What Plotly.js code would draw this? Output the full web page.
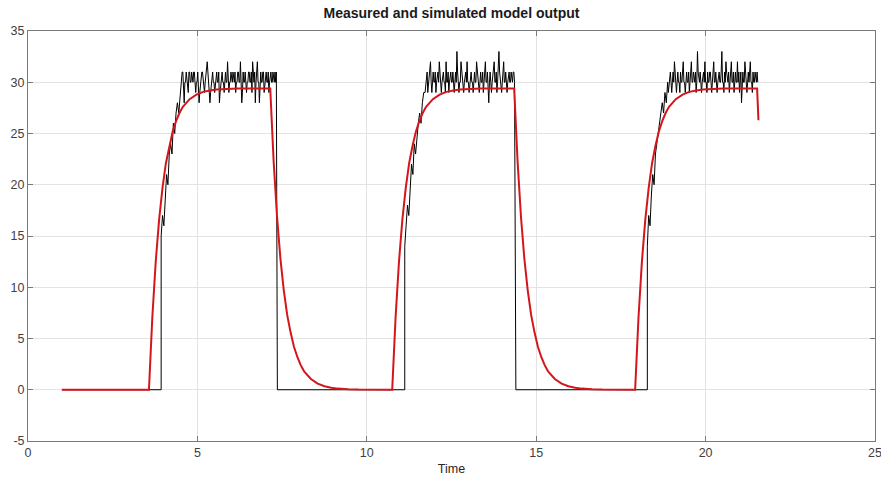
<!DOCTYPE html>
<html>
<head>
<meta charset="utf-8">
<script src="https://cdn.plot.ly/plotly-3.0.1.min.js"></script>
<style>html,body{margin:0;padding:0;background:#fff;}#chart{width:881px;height:477px;}</style>
</head>
<body>
<div id="chart"></div>
<script>
// ---------- Simulated model output (red) ----------
const simTime = [
  1.00, 3.57, 3.67, 3.77, 3.87, 3.97, 4.07, 4.17, 4.27, 4.37, 4.47, 4.57, 4.77, 4.97, 5.17, 5.37, 5.57, 5.87, 6.17, 7.15,
  7.25, 7.35, 7.45, 7.55, 7.65, 7.75, 7.85, 7.95, 8.05, 8.15, 8.35, 8.55, 8.75, 8.95, 9.15, 9.45, 9.75, 10.75,
  10.85, 10.95, 11.05, 11.15, 11.25, 11.35, 11.45, 11.55, 11.65, 11.75, 11.95, 12.15, 12.35, 12.55, 12.75, 13.05, 13.35, 14.35,
  14.45, 14.55, 14.65, 14.75, 14.85, 14.95, 15.05, 15.15, 15.25, 15.35, 15.55, 15.75, 15.95, 16.15, 16.35, 16.65, 16.95, 17.92,
  18.02, 18.12, 18.22, 18.32, 18.42, 18.52, 18.62, 18.72, 18.82, 18.92, 19.12, 19.32, 19.52, 19.72, 19.92, 20.22, 20.52, 21.52, 21.56
];
const simValue = [
  0, 0, 7.1, 12.5, 16.6, 19.7, 22.1, 23.8, 25.2, 26.2, 27.0, 27.6, 28.35, 28.8, 29.06, 29.2, 29.29, 29.35, 29.38, 29.4,
  22.3, 16.9, 12.8, 9.7, 7.3, 5.6, 4.2, 3.2, 2.4, 1.8, 1.05, 0.6, 0.34, 0.2, 0.11, 0.05, 0.02, 0,
  7.1, 12.5, 16.6, 19.7, 22.1, 23.8, 25.2, 26.2, 27.0, 27.6, 28.35, 28.8, 29.06, 29.2, 29.29, 29.35, 29.38, 29.4,
  22.3, 16.9, 12.8, 9.7, 7.3, 5.6, 4.2, 3.2, 2.4, 1.8, 1.05, 0.6, 0.34, 0.2, 0.11, 0.05, 0.02, 0,
  7.1, 12.5, 16.6, 19.7, 22.1, 23.8, 25.2, 26.2, 27.0, 27.6, 28.35, 28.8, 29.06, 29.2, 29.29, 29.35, 29.38, 29.4, 26.3
];

// ---------- Measured output (black) ----------
const sampleStep = 0.02;
// cycle 1
const rise1Time  = [1.00, 3.93, 3.93, 3.97, 4.01, 4.05, 4.09, 4.13, 4.17, 4.21, 4.25, 4.29, 4.33, 4.37, 4.41, 4.45];
const rise1Value = [0,    0,    15,   17,   16,   19,   21,   20,   23,   24,   23,   26,   25,   27,   28,   27];
const plateau1Start = 4.49;
const plateau1Value = [
  29,29,30,31,31,30,28,30,30,31,30,29,29,31,31,30,30,31,30,30,
  31,31,30,29,30,30,31,30,28,29,30,30,31,31,30,30,29,30,31,31,
  32,31,30,30,28,29,30,31,31,30,30,29,30,31,31,30,30,31,28,29,
  30,31,31,30,30,29,30,31,30,30,32,31,29,30,30,31,30,30,31,30,
  30,31,29,30,30,31,31,30,30,32,30,28,29,31,30,30,31,30,29,30,
  30,31,31,30,30,31,29,32,30,30,31,28,30,31,32,30,30,28,29,31,
  30,30,31,31,29,30,30,31,30,30,31,29,30,31,31,30,30,31,30,30,
  31,30,31
];
const fall1Time = 7.36;
// cycle 2
const rise2Time  = [11.12, 11.12, 11.16, 11.20, 11.24, 11.28, 11.32, 11.36, 11.40, 11.44, 11.48, 11.52, 11.56, 11.60, 11.64, 11.68];
const rise2Value = [0,     14,    16,    18,    17,    20,    22,    21,    24,    23,    25,    26,    27,    26,    28,    29];
const plateau2Start = 11.72;
const plateau2Value = [
  29,30,30,31,29,30,31,31,32,30,29,30,31,30,30,31,29,30,31,31,
  30,32,31,30,29,30,31,31,30,30,29,32,30,30,31,29,30,31,31,30,
  30,31,30,29,30,31,30,33,31,30,29,30,30,32,31,30,30,29,30,31,
  31,30,32,30,30,29,30,31,31,30,30,29,30,31,30,30,32,31,30,30,
  29,30,31,30,30,31,29,30,31,32,30,30,31,29,28,30,31,30,29,30,
  31,31,32,30,30,31,29,30,31,33,31,30,30,29,30,31,32,30,30,31,
  30,29,30,31,31,30,30,31,30,30,31,31,30
];
const fall2Time = 14.40;
// cycle 3
const rise3Time  = [18.28, 18.28, 18.32, 18.36, 18.40, 18.44, 18.48, 18.52, 18.56, 18.60, 18.64, 18.68, 18.72, 18.76, 18.80, 18.84];
const rise3Value = [0,     14,    17,    16,    19,    21,    20,    23,    24,    25,    26,    27,    28,    27,    29,    28];
const plateau3Start = 18.88;
const plateau3Value = [
  30,29,30,31,31,30,29,30,31,30,32,31,30,29,30,31,30,30,29,31,
  30,30,31,32,30,30,29,31,31,30,30,31,29,30,31,32,30,30,31,30,
  30,31,29,30,33,31,30,30,31,30,29,30,31,31,30,32,30,30,29,31,
  30,30,31,31,30,29,30,31,32,30,30,31,30,29,30,31,31,30,30,31,
  33,30,30,29,31,30,32,31,30,30,31,29,30,31,32,30,30,31,29,30,
  31,30,30,32,30,31,29,30,31,28,30,31,30,30,32,31,30,29,30,31,
  30,31,32,30,30,29,31,30,30,31,30,30,31,30
];

// assemble measured series from the pieces above
const measTime = [], measValue = [];
function addPoints(ts, vs) { for (let i = 0; i < ts.length; i++) { measTime.push(ts[i]); measValue.push(vs[i]); } }
function addPlateau(start, vs) { for (let i = 0; i < vs.length; i++) { measTime.push(+(start + i * sampleStep).toFixed(3)); measValue.push(vs[i]); } }
addPoints(rise1Time, rise1Value);
addPlateau(plateau1Start, plateau1Value);
addPoints([fall1Time], [0]);
addPoints(rise2Time, rise2Value);
addPlateau(plateau2Start, plateau2Value);
addPoints([fall2Time], [0]);
addPoints(rise3Time, rise3Value);
addPlateau(plateau3Start, plateau3Value);

const xTicks = [0, 5, 10, 15, 20, 25];
const yTicks = [-5, 0, 5, 10, 15, 20, 25, 30, 35];

const font = 'Liberation Sans, Arial, Helvetica, sans-serif';
const axisColor = '#7a7a7a';

const traces = [
  { x: measTime, y: measValue, type: 'scatter', mode: 'lines', name: 'Measured',
    line: { color: '#000000', width: 1 } },
  { x: simTime, y: simValue, type: 'scatter', mode: 'lines', name: 'Simulated',
    line: { color: '#d4161c', width: 2 } }
];

const layout = {
  width: 881, height: 477,
  margin: { l: 28, r: 6, t: 31, b: 36 },
  paper_bgcolor: '#ffffff', plot_bgcolor: '#ffffff',
  showlegend: false,
  font: { family: font, size: 12, color: '#404040' },
  title: { text: '<b>Measured and simulated model output</b>', x: 0.5125, xanchor: 'center', y: 0.982, yanchor: 'top',
           font: { family: font, size: 14, color: '#1a1a1a' } },
  xaxis: {
    range: [0, 25], tickvals: xTicks, ticktext: xTicks.map(String),
    showgrid: true, gridcolor: '#e3e3e3', gridwidth: 1, zeroline: false,
    showline: true, linecolor: axisColor, linewidth: 1, mirror: 'allticks',
    ticks: 'inside', ticklen: 5, tickcolor: axisColor, ticklabeloverflow: 'allow',
    tickfont: { family: font, size: 12.5, color: '#404040' },
    title: { text: 'Time', font: { family: font, size: 12.5, color: '#262626' }, standoff: 5 }
  },
  yaxis: {
    range: [-5, 35], tickvals: yTicks, ticktext: yTicks.map(String),
    showgrid: true, gridcolor: '#e3e3e3', gridwidth: 1, zeroline: false,
    showline: true, linecolor: axisColor, linewidth: 1, mirror: 'allticks',
    ticks: 'inside', ticklen: 5, tickcolor: axisColor,
    tickfont: { family: font, size: 12.5, color: '#404040' }
  }
};

Plotly.newPlot('chart', traces, layout, { displayModeBar: false, staticPlot: true });
</script>
</body>
</html>
